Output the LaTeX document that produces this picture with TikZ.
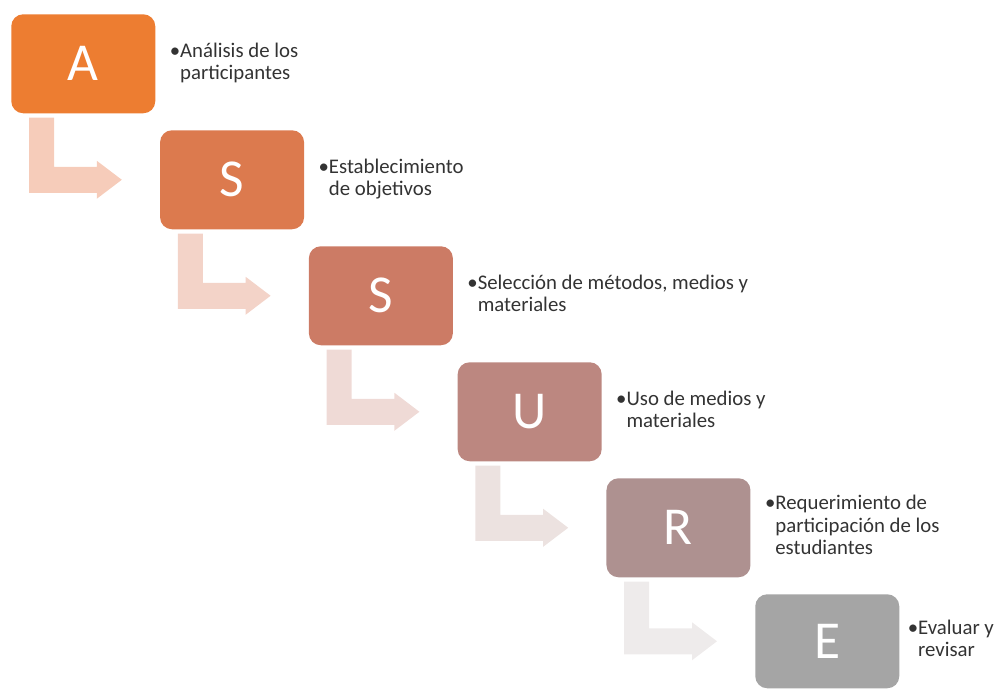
\documentclass[tikz,border=0pt]{standalone}
\usepackage{fontspec}
\setmainfont{Carlito}
\usetikzlibrary{calc}
\definecolor{cA}{HTML}{ED7D31}
\definecolor{cS}{HTML}{DC7A4E}
\definecolor{cSS}{HTML}{CC7B65}
\definecolor{cU}{HTML}{BC8780}
\definecolor{cR}{HTML}{AE9190}
\definecolor{cE}{HTML}{A5A5A5}
\definecolor{aA}{HTML}{F6CCBA}
\definecolor{aS}{HTML}{F3D3C8}
\definecolor{aSS}{HTML}{EFDAD6}
\definecolor{aU}{HTML}{ECE2E0}
\definecolor{aR}{HTML}{EEEBEB}
\definecolor{txt}{HTML}{333333}
\tikzset{
  letterbox/.style={rounded corners=9pt, minimum width=108pt, minimum height=74.25pt,
    inner sep=0pt, anchor=north west, text=white, font=\fontsize{40}{48}\selectfont},
  desc/.style={anchor=west, inner sep=0pt, text=txt, font=\fontsize{15.6}{16.8}\selectfont}
}
\newcommand{\bentarrow}[3]{%
  \fill[#3] ($(#1.south west)+(18,4)$) -- ++(25,0) |- ($(#2.west)+(-63,-13)$)
    -- ++(0,-6) -- ($(#2.west)+(-38,0)$) -- ($(#2.west)+(-63,19)$) -- ++(0,-6)
    -| ($(#1.south west)+(18,4)$) -- cycle;}
\begin{document}
\begin{tikzpicture}[x=0.75pt,y=-0.75pt]
\useasboundingbox (0,0) rectangle (1000,689);
\node[letterbox, fill=cA] (a) at (11,14) {A};
\node[letterbox, fill=cS] (s1) at (159.8,130) {S};
\node[letterbox, fill=cSS] (s2) at (308.6,246) {S};
\node[letterbox, fill=cU] (u) at (457.4,362) {U};
\node[letterbox, fill=cR] (r) at (606.2,478) {R};
\node[letterbox, fill=cE, minimum height=70.5pt] (e) at (755,594) {E};
\bentarrow{a}{s1}{aA}
\bentarrow{s1}{s2}{aS}
\bentarrow{s2}{u}{aSS}
\bentarrow{u}{r}{aU}
\bentarrow{r}{e}{aR}
\node[desc] (ta) at ($(a.east)+(14,0)$) {\textbullet\begin{tabular}[t]{@{}l@{}}Análisis de los\\participantes\end{tabular}};
\node[desc] (ts1) at ($(s1.east)+(14,0)$) {\textbullet\begin{tabular}[t]{@{}l@{}}Establecimiento\\de objetivos\end{tabular}};
\node[desc] (ts2) at ($(s2.east)+(14,0)$) {\textbullet\begin{tabular}[t]{@{}l@{}}Selección de métodos, medios y\\materiales\end{tabular}};
\node[desc] (tu) at ($(u.east)+(14,0)$) {\textbullet\begin{tabular}[t]{@{}l@{}}Uso de medios y\\materiales\end{tabular}};
\node[desc] (tr) at ($(r.east)+(14,0)$) {\textbullet\begin{tabular}[t]{@{}l@{}}Requerimiento de\\participación de los\\estudiantes\end{tabular}};
\node[desc] (te) at ($(e.east)+(8,0)$) {\textbullet\begin{tabular}[t]{@{}l@{}}Evaluar y\\revisar\end{tabular}};
\end{tikzpicture}
\end{document}
